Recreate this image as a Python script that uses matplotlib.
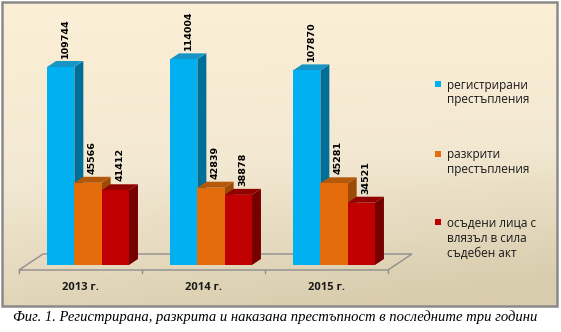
import numpy as np
import matplotlib
matplotlib.use("Agg")
import matplotlib.pyplot as plt
from matplotlib.patches import Polygon, Rectangle
from matplotlib.colors import LinearSegmentedColormap

# ---- data -------------------------------------------------------------
years = ["2013 г.", "2014 г.", "2015 г."]
series_names = [
    "регистрирани\nпрестъпления",
    "разкрити\nпрестъпления",
    "осъдени лица с\nвлязъл в сила\nсъдебен акт",
]
registered = [109744, 114004, 107870]
detected = [45566, 42839, 45281]
convicted = [41412, 38878, 34521]
caption = "Фиг. 1. Регистрирана, разкрита и наказана престъпност в последните три години"

# ---- style ------------------------------------------------------------
front_colors = ["#00B0F0", "#E46C0A", "#C00000"]
top_colors = ["#1796C6", "#B5580B", "#920000"]
side_colors = ["#006F98", "#9C4A06", "#760000"]

W, H, DPI = 561, 332, 100
fig = plt.figure(figsize=(W / DPI, H / DPI), dpi=DPI)
fig.patch.set_facecolor("white")


def px_box(x0, y0, x1, y1):
    """Pixel box (origin top-left) -> figure-fraction rect."""
    return [x0 / W, 1 - y1 / H, (x1 - x0) / W, (y1 - y0) / H]


# chart area background with a soft gradient
bg = fig.add_axes(px_box(2, 2, 557, 306))
bg.set_axis_off()
yy, xx = np.mgrid[0:1:200j, 0:1:300j]
t = np.clip(0.85 * yy + 0.25 * xx * yy, 0, 1)
cmap = LinearSegmentedColormap.from_list("paper", ["#FCEFD7", "#F3E8D2", "#D9CDAE"])
bg.imshow(t, cmap=cmap, aspect="auto", extent=(0, 1, 1, 0), vmin=0, vmax=1)

# chart border
fig.patches.append(Rectangle((2 / W, 1 - 306 / H), 555 / W, 304 / H,
                             transform=fig.transFigure, fill=False,
                             ec="#8A8A8A", lw=1.8, zorder=10))

# ---- main plotting axes (front plane of the bars) ---------------------
ax = fig.add_axes(px_box(26.5, 20, 395.5, 265))
ax.set_xlim(-0.5, 2.5)
ax.set_ylim(0, 135800)
ax.set_axis_off()
ax.patch.set_alpha(0)


def shift(x, y, dx, dy):
    """Move a data point by (dx, dy) display pixels; return data coords."""
    d = ax.transData.transform((x, y))
    return ax.transData.inverted().transform(d + np.array([dx, dy]))


# floor of the 3-D plot
FRONT = (-7.5, -5)
BACK = (16.5, 11)
floor = [shift(-0.5, 0, *FRONT), shift(2.5, 0, *FRONT),
         shift(2.5, 0, *BACK), shift(-0.5, 0, *BACK)]
ax.add_patch(Polygon(floor, closed=True, fill=False, ec="#8E8E8E", lw=1.0,
                     clip_on=False, zorder=1))
for xb in np.arange(-0.5, 3.0, 1.0):
    p0 = shift(xb, 0, *FRONT)
    p1 = shift(xb, 0, FRONT[0], FRONT[1] - 3)
    ax.plot([p0[0], p1[0]], [p0[1], p1[1]], color="#8E8E8E", lw=1.0,
            clip_on=False, zorder=1)

# bars
series = [registered, detected, convicted]
x = np.arange(len(years))
w = 0.222
DX, DY = 9, 6
for k, values in enumerate(series):
    pos = x + (k - 1) * w
    z = 2 + k
    ax.bar(pos, values, width=w, color=front_colors[k], zorder=z + 0.2,
           clip_on=False)
    for xc, v in zip(pos, values):
        xl, xr = xc - w / 2, xc + w / 2
        side = [(xr, 0), (xr, v), shift(xr, v, DX, DY), shift(xr, 0, DX, DY)]
        top = [(xl, v), (xr, v), shift(xr, v, DX, DY), shift(xl, v, DX, DY)]
        ax.add_patch(Polygon(side, closed=True, fc=side_colors[k], ec="none",
                             clip_on=False, zorder=z))
        ax.add_patch(Polygon(top, closed=True, fc=top_colors[k], ec="none",
                             clip_on=False, zorder=z + 0.1))
        ax.annotate(f"{v}", xy=(xc, v), xytext=(4.5, 9),
                    textcoords="offset pixels", rotation=90, ha="center",
                    va="bottom", fontsize=6.8, fontweight="bold",
                    family="DejaVu Sans", color="black", zorder=8,
                    annotation_clip=False)

# category labels
for i, yr in enumerate(years):
    ax.annotate(yr, xy=(i, 0), xytext=(FRONT[0], -22),
                textcoords="offset pixels", ha="center", va="center",
                fontsize=8, fontweight="bold", family="Open Sans",
                color="#1A1A1A", annotation_clip=False)

# legend
legend_first_baseline = [88.5, 158.5, 226.5]
for k, name in enumerate(series_names):
    base = legend_first_baseline[k]
    fig.patches.append(Rectangle((435 / W, 1 - (base - 2) / H), 6 / W, 6 / H,
                                 transform=fig.transFigure,
                                 fc=front_colors[k], ec="none", zorder=5))
    for j, line in enumerate(name.split("\n")):
        fig.text(447 / W, 1 - (base + 15 * j) / H, line, ha="left",
                 va="baseline", fontsize=8.5, family="Open Sans",
                 color="#1A1A1A")

# caption
fig.text(275 / W, 1 - 317 / H, caption, ha="center", va="center",
         fontsize=10.5, style="italic", family="Liberation Serif",
         color="black")

fig.savefig("out.png", dpi=DPI)
